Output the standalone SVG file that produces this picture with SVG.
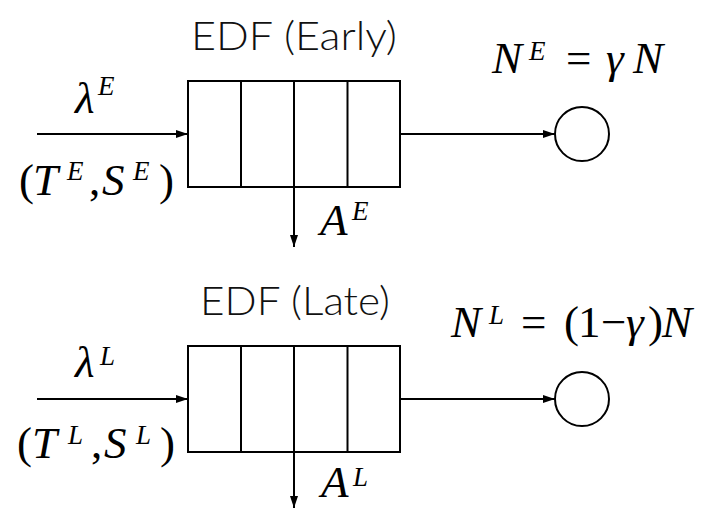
<svg xmlns="http://www.w3.org/2000/svg" width="707" height="511" viewBox="0 0 707 511">
<style>
.ln{stroke:#000;stroke-width:2;fill:none}
.box{stroke:#000;stroke-width:2;fill:#fff}
.title{font-family:Lato,"Open Sans",sans-serif;font-weight:300;font-size:40px;fill:#111}
.m{font-family:"Liberation Serif","DejaVu Serif",serif;font-size:45px;fill:#000}
.i{font-style:italic}
.s{font-size:27px;font-style:italic}
</style>
<defs>
<marker id="ah" viewBox="0 0 12 8" refX="12" refY="4" markerWidth="12" markerHeight="8" markerUnits="userSpaceOnUse" orient="auto">
<path d="M0,0 L12,4 L0,8 Z" fill="#000"/>
</marker>
</defs>
<g id="connectors">
<line class="ln" x1="37" y1="134" x2="188" y2="134" marker-end="url(#ah)"/>
<line class="ln" x1="400" y1="134" x2="555" y2="134" marker-end="url(#ah)"/>
<line class="ln" x1="294" y1="187" x2="294" y2="247" marker-end="url(#ah)"/>
<line class="ln" x1="37" y1="399" x2="188" y2="399" marker-end="url(#ah)"/>
<line class="ln" x1="400" y1="399" x2="555" y2="399" marker-end="url(#ah)"/>
<line class="ln" x1="294" y1="452" x2="294" y2="508" marker-end="url(#ah)"/>
</g>
<g id="queue-early">
<text class="title" x="191" y="50" textLength="206" lengthAdjust="spacingAndGlyphs">EDF (Early)</text>
<rect class="box" x="188" y="81" width="212" height="106"/>
<line class="ln" x1="241" y1="81" x2="241" y2="187"/>
<line class="ln" x1="294" y1="81" x2="294" y2="187"/>
<line class="ln" x1="347.5" y1="81" x2="347.5" y2="187"/>
</g>
<g id="server-early">
<circle class="ln" cx="582" cy="134" r="27"/>
<text class="m"><tspan class="i" x="492" y="73">N</tspan><tspan class="s" x="529" y="60">E</tspan><tspan x="566" y="73">=</tspan><tspan class="i" x="606" y="73">γ</tspan><tspan class="i" x="633" y="73">N</tspan></text>
</g>
<g id="labels-early">
<text class="m"><tspan class="i" x="75" y="113">λ</tspan><tspan class="s" x="98" y="95">E</tspan></text>
<text class="m"><tspan x="19" y="195">(</tspan><tspan class="i" x="33" y="195">T</tspan><tspan class="s" x="67" y="180">E</tspan><tspan x="89" y="195">,</tspan><tspan class="i" x="102" y="195">S</tspan><tspan class="s" x="133" y="180">E</tspan><tspan x="159" y="195">)</tspan></text>
<text class="m"><tspan class="i" x="320" y="235">A</tspan><tspan class="s" x="352" y="220">E</tspan></text>
</g>
<g id="queue-late">
<text class="title" x="200" y="315" textLength="190" lengthAdjust="spacingAndGlyphs">EDF (Late)</text>
<rect class="box" x="188" y="346" width="212" height="106"/>
<line class="ln" x1="241" y1="346" x2="241" y2="452"/>
<line class="ln" x1="294" y1="346" x2="294" y2="452"/>
<line class="ln" x1="347.5" y1="346" x2="347.5" y2="452"/>
</g>
<g id="server-late">
<circle class="ln" cx="582" cy="399" r="27"/>
<text class="m"><tspan class="i" x="451" y="337">N</tspan><tspan class="s" x="489" y="324">L</tspan><tspan x="521" y="337">=</tspan><tspan x="564" y="337">(</tspan><tspan x="578" y="337">1</tspan><tspan x="601" y="337">−</tspan><tspan class="i" x="626" y="337">γ</tspan><tspan x="648" y="337">)</tspan><tspan class="i" x="662" y="337">N</tspan></text>
</g>
<g id="labels-late">
<text class="m"><tspan class="i" x="75" y="377">λ</tspan><tspan class="s" x="100" y="365">L</tspan></text>
<text class="m"><tspan x="17" y="458">(</tspan><tspan class="i" x="32" y="458">T</tspan><tspan class="s" x="68" y="444">L</tspan><tspan x="91" y="458">,</tspan><tspan class="i" x="104" y="458">S</tspan><tspan class="s" x="136" y="444">L</tspan><tspan x="160" y="458">)</tspan></text>
<text class="m"><tspan class="i" x="321" y="497">A</tspan><tspan class="s" x="353" y="486">L</tspan></text>
</g>
</svg>
